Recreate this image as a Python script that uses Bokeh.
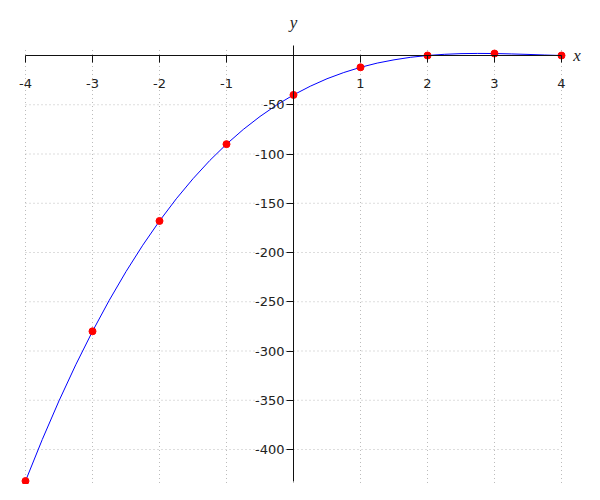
from bokeh.plotting import figure
from bokeh.models import FixedTicker, Label, Range1d, PrintfTickFormatter
from bokeh.embed import file_html
from bokeh.resources import INLINE

# sample points
pt_x = [-4, -3, -2, -1, 0, 1, 2, 3, 4]
pt_y = [-432, -280, -168, -90, -40, -12, 0, 2, 0]

# smooth curve
curve_x = [-4, -3.75, -3.5, -3.25, -3, -2.75, -2.5, -2.25, -2, -1.75, -1.5, -1.25,
           -1, -0.75, -0.5, -0.25, 0, 0.25, 0.5, 0.75, 1, 1.25, 1.5, 1.75,
           2, 2.25, 2.5, 2.75, 3, 3.25, 3.5, 3.75, 4]
curve_y = [-432, -389.9, -350.6, -314.0, -280, -248.5, -219.4, -192.6, -168, -145.5, -125.1, -106.6,
           -90, -75.1, -61.9, -50.2, -40, -31.2, -23.6, -17.3, -12, -7.7, -4.4, -1.8,
           0, 1.2, 1.9, 2.1, 2, 1.6, 1.1, 0.5, 0]

x_ticks = [-4, -3, -2, -1, 1, 2, 3, 4]
y_ticks = [-400, -350, -300, -250, -200, -150, -100, -50]
x_grid = [-4, -3, -2, -1, 0, 1, 2, 3, 4]
y_min, y_max = -432, 10
x_min, x_max = -4, 4

W, H = 584, 484
sx = 67.0
sy = 0.985
x0 = -4 - 25 / sx
y1 = 55 / sy

p = figure(width=W, height=H, output_backend="svg", toolbar_location=None,
           x_range=Range1d(x0, x0 + W / sx), y_range=Range1d(y1 - H / sy, y1),
           min_border=0, outline_line_color=None)
p.xgrid.visible = False
p.ygrid.visible = False

grid_color = "#bbbbbb"
p.segment(x0=x_grid, y0=[y_min - 2] * len(x_grid), x1=x_grid, y1=[7] * len(x_grid),
          line_color=grid_color, line_width=1, line_dash="1 3")
p.segment(x0=[x_min] * len(y_ticks), y0=y_ticks, x1=[x_max] * len(y_ticks), y1=y_ticks,
          line_color=grid_color, line_width=1, line_dash="1 3")

p.line(curve_x, curve_y, line_color="#0000ff", line_width=1)
p.scatter(pt_x, pt_y, size=7, fill_color="#ff0000", line_color="#ff0000")

for ax in (p.xaxis[0], p.yaxis[0]):
    ax.fixed_location = 0
    ax.axis_line_color = "#111111"
    ax.axis_line_width = 1
    ax.major_tick_line_color = "#111111"
    ax.major_tick_in = 0
    ax.major_tick_out = 7
    ax.minor_tick_line_color = None
    ax.major_label_text_font = "DejaVu Sans"
    ax.major_label_text_font_size = "13px"
    ax.major_label_text_color = "#222222"
    ax.formatter = PrintfTickFormatter(format="%d")

p.xaxis[0].ticker = FixedTicker(ticks=x_ticks)
p.yaxis[0].ticker = FixedTicker(ticks=y_ticks)
p.xaxis[0].bounds = (x_min, x_max)
p.yaxis[0].bounds = (y_min, y_max)
p.xaxis[0].major_label_standoff = 16
p.yaxis[0].major_label_standoff = 2

p.add_layout(Label(x=4.23, y=0, text="x", text_font="Liberation Serif", text_font_style="italic",
                   text_font_size="17px", text_align="center", text_baseline="middle",
                   text_color="#222222"))
p.add_layout(Label(x=0, y=33.5, text="y", text_font="Liberation Serif", text_font_style="italic",
                   text_font_size="17px", text_align="center", text_baseline="middle",
                   text_color="#222222"))

open("out.html", "w").write(file_html(p, INLINE))
